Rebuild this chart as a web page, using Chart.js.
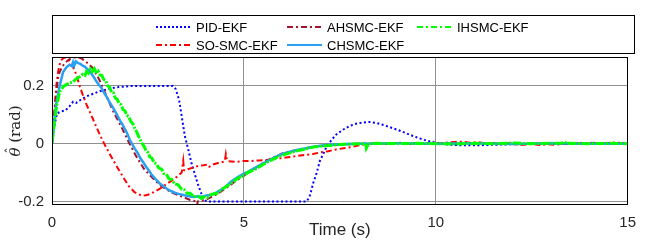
<!DOCTYPE html>
<html>
<head>
<meta charset="utf-8">
<script src="https://cdn.jsdelivr.net/npm/chart.js"></script>
<style>
  body { margin: 0; background: #fff; }
  #wrap { width: 646px; height: 242px; }
</style>
</head>
<body>
<div id="wrap"><canvas id="theta-chart" width="646" height="242"></canvas></div>
<script>
// Estimated angle estimate vs time

const labels = ['PID-EKF', 'SO-SMC-EKF', 'AHSMC-EKF', 'CHSMC-EKF', 'IHSMC-EKF'];
const xTicks = [0, 5, 10, 15];
const yTicks = [-0.2, 0, 0.2];

// PID-EKF
const pidT = [0,0.06,0.13,0.25,0.35,0.45,0.55,0.63,0.75,0.9,1.06,1.23,1.41,1.67,2.1,2.6,3.15,3.22,3.31,3.38,3.46,3.55,3.63,3.72,3.8,3.89,3.97,4.05,5,6,6.64,6.72,6.81,6.9,6.98,7.07,7.15,7.28,7.41,7.58,7.75,7.92,8.1,8.27,8.44,8.65,8.87,9.1,9.3,9.5,9.7,9.9,10.1,10.4,10.7,11,11.5,12,12.5,13,14,15];
const pidV = [0,0.06,0.105,0.112,0.115,0.128,0.145,0.141,0.152,0.164,0.172,0.181,0.187,0.195,0.2,0.2,0.2,0.19,0.153,0.095,0.027,-0.02,-0.065,-0.105,-0.14,-0.172,-0.196,-0.2,-0.2,-0.2,-0.2,-0.18,-0.135,-0.1,-0.06,-0.035,-0.012,0.012,0.032,0.048,0.061,0.069,0.073,0.075,0.072,0.064,0.054,0.043,0.032,0.022,0.013,0.006,0.001,-0.004,-0.006,-0.006,-0.004,-0.002,-0.001,0,0.001,0];

// SO-SMC-EKF
const soT = [0,0.04,0.08,0.12,0.16,0.2,0.25,0.3,0.35,0.4,0.46,0.55,0.63,0.72,0.8,0.9,1.02,1.15,1.25,1.36,1.5,1.68,1.85,2.0,2.15,2.35,2.5,2.65,2.8,2.95,3.1,3.25,3.38,3.42,3.44,3.47,3.55,3.7,3.81,3.95,4.06,4.1,4.2,4.35,4.5,4.53,4.56,4.6,4.8,5.0,5.2,5.4,5.6,5.8,6.0,6.2,6.4,6.6,6.8,7.0,7.2,7.4,7.6,7.8,8.0,8.15,8.3,8.5,8.7,8.9,9.1,9.3,9.5,9.7,9.9,10.1,10.3,10.5,10.7,10.9,11.1,11.3,11.5,11.7,11.9,12.1,12.3,12.5,12.7,12.9,13.1,13.3,13.5,13.7,13.9,14.1,14.3,14.5,14.7,14.9,15];
const soV = [0,0.07,0.146,0.21,0.25,0.275,0.29,0.297,0.298,0.295,0.285,0.265,0.24,0.2,0.17,0.135,0.1,0.06,0.03,0,-0.035,-0.077,-0.115,-0.147,-0.168,-0.181,-0.177,-0.168,-0.157,-0.143,-0.13,-0.115,-0.1,-0.06,-0.092,-0.094,-0.088,-0.082,-0.077,-0.075,-0.072,-0.08,-0.072,-0.066,-0.062,-0.036,-0.058,-0.061,-0.063,-0.06,-0.06,-0.058,-0.056,-0.052,-0.05,-0.046,-0.042,-0.039,-0.036,-0.03,-0.026,-0.02,-0.016,-0.012,-0.006,-0.003,0,0.002,-0.001,0.001,0.003,-0.001,0.002,0,0.003,0.001,0.004,0.006,0.007,0.003,0.005,0.001,0.002,-0.002,0.001,-0.003,-0.004,-0.001,-0.005,-0.002,-0.004,0,-0.002,0.002,0.001,0.003,0,0.002,0.004,0.001,0.002];

// AHSMC-EKF
const ahT = [0,0.04,0.08,0.12,0.16,0.2,0.25,0.33,0.45,0.55,0.65,0.76,0.9,1.06,1.23,1.41,1.6,1.8,2.0,2.2,2.4,2.52,2.7,2.86,3.1,3.38,3.6,3.75,3.78,3.8,3.83,4.0,4.3,4.6,4.8,5.2,5.6,6.0,6.5,7.0,7.5,8,9,10,11,12,13,14,15];
const ahV = [0,0.07,0.13,0.185,0.227,0.248,0.262,0.279,0.292,0.298,0.299,0.296,0.282,0.262,0.222,0.168,0.11,0.06,0.005,-0.045,-0.088,-0.105,-0.13,-0.148,-0.168,-0.183,-0.195,-0.2,-0.212,-0.2,-0.199,-0.195,-0.175,-0.148,-0.128,-0.093,-0.058,-0.034,-0.018,-0.008,-0.003,0,0.001,0,0.001,0,-0.001,0,0];

// CHSMC-EKF
const chT = [0,0.06,0.12,0.2,0.29,0.38,0.46,0.52,0.55,0.58,0.62,0.68,0.74,0.8,0.86,0.92,0.98,1.04,1.1,1.16,1.22,1.28,1.34,1.41,1.48,1.54,1.6,1.66,1.72,1.78,1.84,1.9,1.96,2.02,2.09,2.16,2.23,2.3,2.38,2.45,2.52,2.6,2.7,2.8,2.9,3.0,3.1,3.2,3.3,3.45,3.6,3.7,3.8,3.9,4.0,4.1,4.2,4.3,4.4,4.5,4.66,4.84,5.0,5.1,5.3,5.5,5.7,5.82,6.0,6.2,6.38,6.55,6.8,7.15,7.5,8,9,10,11,12,13,14,15];
const chV = [0,0.08,0.146,0.2,0.248,0.265,0.273,0.268,0.282,0.27,0.285,0.279,0.276,0.27,0.266,0.258,0.25,0.24,0.228,0.215,0.204,0.195,0.18,0.165,0.148,0.135,0.122,0.108,0.093,0.078,0.066,0.05,0.035,0.015,-0.002,-0.018,-0.032,-0.05,-0.065,-0.08,-0.092,-0.108,-0.123,-0.137,-0.147,-0.157,-0.164,-0.17,-0.174,-0.179,-0.183,-0.185,-0.182,-0.184,-0.18,-0.178,-0.175,-0.168,-0.16,-0.152,-0.132,-0.116,-0.104,-0.098,-0.083,-0.068,-0.054,-0.046,-0.036,-0.028,-0.022,-0.018,-0.011,-0.005,-0.002,0,0.001,0,0.001,-0.001,0.001,0,0];

// IHSMC-EKF
const ihT = [0,0.06,0.12,0.2,0.3,0.38,0.46,0.55,0.63,0.72,0.8,0.86,0.9,0.95,1.0,1.05,1.1,1.15,1.2,1.25,1.3,1.35,1.4,1.45,1.5,1.55,1.6,1.65,1.7,1.75,1.8,1.85,1.9,1.95,2.0,2.05,2.1,2.15,2.2,2.26,2.34,2.4,2.45,2.5,2.55,2.6,2.66,2.72,2.78,2.86,2.92,2.98,3.05,3.12,3.2,3.28,3.38,3.45,3.52,3.6,3.7,3.81,3.9,3.95,4.05,4.15,4.3,4.45,4.66,4.84,5.0,5.1,5.3,5.5,5.7,5.82,6.0,6.2,6.38,6.55,6.8,7.15,7.5,7.8,8.1,8.17,8.19,8.25,8.5,9,9.5,10,10.5,11,11.5,12,12.5,13,13.3,13.35,13.4,14,14.5,15];
const ihV = [0,0.07,0.13,0.18,0.198,0.205,0.21,0.214,0.224,0.232,0.24,0.236,0.25,0.244,0.258,0.25,0.26,0.248,0.252,0.238,0.236,0.222,0.218,0.2,0.196,0.178,0.176,0.158,0.154,0.138,0.135,0.118,0.114,0.098,0.094,0.078,0.07,0.055,0.042,0.024,0.003,-0.01,-0.024,-0.03,-0.046,-0.05,-0.066,-0.07,-0.084,-0.089,-0.104,-0.106,-0.122,-0.124,-0.14,-0.142,-0.158,-0.16,-0.172,-0.172,-0.184,-0.182,-0.19,-0.184,-0.186,-0.176,-0.172,-0.156,-0.138,-0.12,-0.11,-0.1,-0.088,-0.072,-0.058,-0.05,-0.04,-0.032,-0.025,-0.02,-0.012,-0.007,-0.003,-0.001,0,0,-0.016,0,0.001,0,0.001,0,-0.001,0.001,0,0.002,0,0.001,0.002,0.007,0.001,0,0.001,0];

function pts(ts, vs) {
    return ts.map((t, i) => ({ x: t, y: vs[i] }));
}

const axisFont = "'Liberation Sans', Arial, Helvetica, sans-serif";
const serifFont = '"DejaVu Serif", serif';
const textColor = '#262626';
const gridColor = '#909090';

// legend slot for each series: [column x, row y]
const legendSlots = [[156, 27], [156, 45], [287, 27], [287, 45], [417, 27]];

const boxLegendAndFrame = {
    id: 'boxLegendAndFrame',
    afterDraw(chart) {
        const ctx = chart.ctx;
        const a = chart.chartArea;
        ctx.save();

        // axes box
        ctx.strokeStyle = '#000';
        ctx.lineWidth = 1;
        ctx.setLineDash([]);
        ctx.strokeRect(Math.round(a.left) + 0.5, Math.round(a.top) + 0.5,
            Math.round(a.right - a.left) - 1, Math.round(a.bottom - a.top));

        // legend box
        ctx.fillStyle = '#fff';
        ctx.fillRect(52, 15, 583, 39);
        ctx.strokeRect(52.5, 15.5, 582, 38);

        chart.data.datasets.forEach((ds, i) => {
            const [lx, ly] = legendSlots[i];
            ctx.beginPath();
            ctx.strokeStyle = ds.borderColor;
            ctx.lineWidth = 2;
            ctx.setLineDash(ds.legendDash || []);
            ctx.moveTo(lx, ly);
            ctx.lineTo(lx + 35, ly);
            ctx.stroke();
            ctx.setLineDash([]);
            ctx.fillStyle = '#000';
            ctx.font = '13px ' + axisFont;
            ctx.textBaseline = 'middle';
            ctx.textAlign = 'left';
            ctx.fillText(ds.label, lx + 40, ly + 1);
        });

        // y axis title: theta-hat (rad)
        ctx.translate(16, 131);
        ctx.rotate(-Math.PI / 2);
        ctx.fillStyle = textColor;
        ctx.textBaseline = 'middle';
        ctx.textAlign = 'left';
        const sym = '\u03B8';
        const unit = ' (rad)';
        ctx.font = 'italic 15px ' + serifFont;
        const w1 = ctx.measureText(sym).width;
        ctx.font = '15px ' + serifFont;
        const w2 = ctx.measureText(unit).width;
        const x0 = -(w1 + w2) / 2;
        ctx.font = 'italic 15px ' + serifFont;
        ctx.fillText(sym, x0, 0);
        // hat over theta
        ctx.font = '13px ' + serifFont;
        ctx.textAlign = 'center';
        ctx.fillText('\u02C6', x0 + w1 / 2 + 1.5, -4);
        ctx.textAlign = 'left';
        ctx.font = '15px ' + serifFont;
        ctx.fillText(unit, x0 + w1, 0);
        ctx.restore();
    }
};

document.addEventListener('DOMContentLoaded', function() {
    const ctx = document.getElementById('theta-chart').getContext('2d');

    const styles = [
        { color: '#0000ff', dash: [2, 2.5], legendDash: [2, 2], width: 2, order: 5 },
        { color: '#ff0000', dash: [6, 3, 2, 3], legendDash: [6, 3, 2, 3], width: 2, order: 4 },
        { color: '#a2142f', dash: [6, 3, 2, 3], legendDash: [6, 3, 2, 3], width: 2, order: 3 },
        { color: '#2b9ff0', dash: [], legendDash: [], width: 2.5, order: 2 },
        { color: '#00ff00', dash: [9, 1.5, 2, 1.5], legendDash: [6, 3, 2, 3], width: 3, order: 1 }
    ];
    const series = [pts(pidT, pidV), pts(soT, soV), pts(ahT, ahV), pts(chT, chV), pts(ihT, ihV)];

    new Chart(ctx, {
        type: 'line',
        data: {
            datasets: series.map((d, i) => ({
                label: labels[i],
                data: d,
                borderColor: styles[i].color,
                borderDash: styles[i].dash,
                legendDash: styles[i].legendDash,
                borderWidth: styles[i].width,
                order: styles[i].order,
                pointRadius: 0,
                tension: 0,
                fill: false
            }))
        },
        options: {
            responsive: false,
            animation: false,
            events: [],
            layout: { padding: { top: 57, right: 11, left: 0, bottom: 0 } },
            plugins: {
                legend: { display: false },
                tooltip: { enabled: false }
            },
            scales: {
                x: {
                    type: 'linear',
                    min: 0,
                    max: 15,
                    afterBuildTicks: scale => { scale.ticks = xTicks.map(v => ({ value: v })); },
                    afterFit: scale => { scale.height = 38; },
                    grid: { color: gridColor, drawTicks: false },
                    border: { display: false },
                    ticks: {
                        padding: 10,
                        maxRotation: 0,
                        autoSkip: false,
                        color: textColor,
                        font: { family: axisFont, size: 15 }
                    },
                    title: {
                        display: true,
                        text: 'Time (s)',
                        color: textColor,
                        font: { family: axisFont, size: 17 },
                        padding: { top: 0, bottom: 1 }
                    }
                },
                y: {
                    min: -0.209,
                    max: 0.3,
                    afterBuildTicks: scale => { scale.ticks = yTicks.map(v => ({ value: v })); },
                    afterFit: scale => { scale.width = 52; },
                    grid: { color: gridColor, drawTicks: false },
                    border: { display: false },
                    ticks: {
                        padding: 8,
                        color: textColor,
                        font: { family: axisFont, size: 15 },
                        callback: v => String(v)
                    }
                }
            }
        },
        plugins: [boxLegendAndFrame]
    });
});
</script>
</body>
</html>
